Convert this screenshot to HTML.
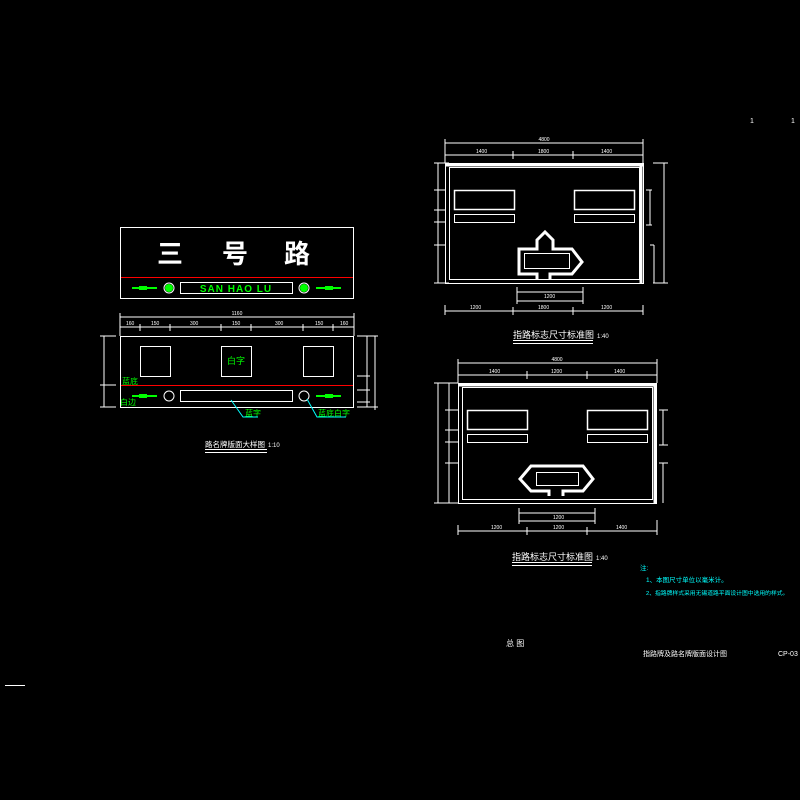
<!DOCTYPE html>
<html><head><meta charset="utf-8"><style>
html,body{margin:0;padding:0;background:#000;}
svg{display:block;}
text{font-family:"Liberation Sans","Noto Sans CJK SC",sans-serif;}
</style></head><body>
<svg width="800" height="800" viewBox="0 0 800 800" xmlns="http://www.w3.org/2000/svg">
<rect width="800" height="800" fill="#000"/>
<g fill="none" stroke="#fff" stroke-width="1">
<rect x="120.5" y="227.5" width="233" height="71"/>
<rect x="180.5" y="282.5" width="112" height="11"/>
<rect x="120.5" y="336.5" width="233" height="71"/>
<rect x="140.5" y="346.5" width="30" height="30"/>
<rect x="221.5" y="346.5" width="30" height="30"/>
<rect x="303.5" y="346.5" width="30" height="30"/>
<rect x="180.5" y="390.5" width="112" height="11"/>
<circle cx="169" cy="396" r="5"/>
<circle cx="304" cy="396" r="5"/>
<circle cx="169" cy="288" r="5"/>
<circle cx="304" cy="288" r="5"/>
<line x1="120" y1="317" x2="354" y2="317"/>
<line x1="120" y1="327" x2="354" y2="327"/>
<line x1="120" y1="313" x2="120" y2="336"/>
<line x1="354" y1="313" x2="354" y2="336"/>
<line x1="140" y1="324" x2="140" y2="331"/><line x1="170" y1="324" x2="170" y2="331"/>
<line x1="221" y1="324" x2="221" y2="331"/><line x1="251" y1="324" x2="251" y2="331"/>
<line x1="303" y1="324" x2="303" y2="331"/><line x1="333" y1="324" x2="333" y2="331"/>
<line x1="104" y1="336" x2="104" y2="407"/>
<line x1="100" y1="336" x2="116" y2="336"/><line x1="100" y1="385" x2="116" y2="385"/><line x1="100" y1="407" x2="116" y2="407"/>
<line x1="367" y1="336" x2="367" y2="407"/><line x1="375" y1="336" x2="375" y2="410"/>
<line x1="357" y1="336" x2="378" y2="336"/><line x1="357" y1="407" x2="378" y2="407"/>
<line x1="357" y1="376" x2="370" y2="376"/><line x1="357" y1="390" x2="370" y2="390"/><line x1="357" y1="402" x2="370" y2="402"/>
<line x1="205" y1="449.5" x2="267" y2="449.5"/><line x1="205" y1="452.5" x2="267" y2="452.5"/>

<rect x="445.5" y="163.5" width="198" height="120"/>
<rect x="449.5" y="167.5" width="190" height="112"/>
<line x1="446" y1="165" x2="643" y2="165" stroke-width="3"/>
<line x1="641" y1="164" x2="641" y2="283" stroke-width="3"/>
<rect x="454.5" y="190.5" width="60" height="19" stroke-width="1.5"/>
<rect x="454.5" y="214.5" width="60" height="8"/>
<rect x="574.5" y="190.5" width="60" height="19" stroke-width="1.5"/>
<rect x="574.5" y="214.5" width="60" height="8"/>
<path d="M537,279 V274 H519 V249 H537 V240 L545,232 L553,240 V249 H572 L582,262 L572,274 H550 V279" stroke-width="3"/>
<rect x="524.5" y="253.5" width="45" height="15"/>
<line x1="445" y1="143" x2="643" y2="143"/><line x1="445" y1="155" x2="643" y2="155"/>
<line x1="445" y1="139" x2="445" y2="163"/><line x1="643" y1="139" x2="643" y2="163"/>
<line x1="513" y1="151" x2="513" y2="159"/><line x1="573" y1="151" x2="573" y2="159"/>
<line x1="438" y1="163" x2="438" y2="283"/><line x1="434" y1="163" x2="449" y2="163"/><line x1="434" y1="283" x2="449" y2="283"/>
<line x1="434" y1="190" x2="445" y2="190"/><line x1="434" y1="210" x2="445" y2="210"/><line x1="434" y1="222" x2="445" y2="222"/><line x1="434" y1="245" x2="445" y2="245"/>
<line x1="664" y1="163" x2="664" y2="283"/><line x1="653" y1="163" x2="668" y2="163"/><line x1="653" y1="283" x2="668" y2="283"/>
<line x1="650" y1="245" x2="654" y2="245"/><line x1="654" y1="245" x2="654" y2="283"/>
<line x1="646" y1="190" x2="652" y2="190"/><line x1="650" y1="190" x2="650" y2="225"/><line x1="646" y1="225" x2="652" y2="225"/>
<line x1="445" y1="311" x2="643" y2="311"/><line x1="445" y1="305" x2="445" y2="315"/><line x1="643" y1="305" x2="643" y2="315"/>
<line x1="513" y1="307" x2="513" y2="315"/><line x1="573" y1="307" x2="573" y2="315"/>
<line x1="517" y1="292" x2="583" y2="292"/><line x1="517" y1="301" x2="583" y2="301"/>
<line x1="517" y1="287" x2="517" y2="304"/><line x1="583" y1="287" x2="583" y2="304"/>
<line x1="513" y1="340.5" x2="593" y2="340.5"/><line x1="513" y1="343.5" x2="593" y2="343.5"/>

<rect x="458.5" y="383.5" width="198" height="120"/>
<rect x="462.5" y="387.5" width="190" height="112"/>
<line x1="459" y1="385" x2="657" y2="385" stroke-width="3"/>
<line x1="655" y1="384" x2="655" y2="503" stroke-width="3"/>
<rect x="467.5" y="410.5" width="60" height="19" stroke-width="1.5"/>
<rect x="467.5" y="434.5" width="60" height="8"/>
<rect x="587.5" y="410.5" width="60" height="19" stroke-width="1.5"/>
<rect x="587.5" y="434.5" width="60" height="8"/>
<path d="M549,496 V491 H531 L520,479 L531,466 H583 L593,479 L583,491 H563 V496" stroke-width="3"/>
<rect x="536.5" y="472.5" width="42" height="13"/>
<line x1="458" y1="363" x2="657" y2="363"/><line x1="458" y1="375" x2="657" y2="375"/>
<line x1="458" y1="359" x2="458" y2="383"/><line x1="657" y1="359" x2="657" y2="383"/>
<line x1="527" y1="371" x2="527" y2="379"/><line x1="587" y1="371" x2="587" y2="379"/>
<line x1="438" y1="383" x2="438" y2="503"/><line x1="434" y1="383" x2="458" y2="383"/><line x1="434" y1="503" x2="458" y2="503"/>
<line x1="449" y1="383" x2="449" y2="503"/>
<line x1="445" y1="410" x2="458" y2="410"/><line x1="445" y1="430" x2="458" y2="430"/><line x1="445" y1="442" x2="458" y2="442"/><line x1="445" y1="463" x2="458" y2="463"/>
<line x1="663" y1="410" x2="663" y2="445"/><line x1="663" y1="463" x2="663" y2="503"/>
<line x1="659" y1="410" x2="668" y2="410"/><line x1="659" y1="445" x2="668" y2="445"/><line x1="659" y1="463" x2="668" y2="463"/>
<line x1="458" y1="531" x2="657" y2="531"/><line x1="458" y1="525" x2="458" y2="535"/><line x1="657" y1="520" x2="657" y2="535"/>
<line x1="527" y1="527" x2="527" y2="535"/><line x1="587" y1="527" x2="587" y2="535"/>
<line x1="519" y1="513" x2="595" y2="513"/><line x1="519" y1="521" x2="595" y2="521"/>
<line x1="519" y1="508" x2="519" y2="524"/><line x1="595" y1="508" x2="595" y2="524"/>
<line x1="512" y1="562.5" x2="592" y2="562.5"/><line x1="512" y1="565.5" x2="592" y2="565.5"/>
<line x1="5" y1="685.5" x2="25" y2="685.5"/>
</g>
<line x1="121" y1="277.5" x2="353" y2="277.5" stroke="#f00"/>
<line x1="121" y1="385.5" x2="353" y2="385.5" stroke="#f00"/>
<g fill="#0f0">
<rect x="132" y="287" width="25" height="2"/><rect x="139" y="286" width="8" height="4"/>
<rect x="316" y="287" width="25" height="2"/><rect x="325" y="286" width="8" height="4"/>
<rect x="132" y="395" width="25" height="2"/><rect x="139" y="394" width="8" height="4"/>
<rect x="316" y="395" width="25" height="2"/><rect x="325" y="394" width="8" height="4"/>
<circle cx="169" cy="288" r="4"/><circle cx="304" cy="288" r="4"/>
<text x="236" y="292" font-size="10" font-weight="bold" text-anchor="middle" letter-spacing="1">SAN HAO LU</text>
<text x="236" y="364" font-size="9" text-anchor="middle">白字</text>
<text x="122" y="384" font-size="8">蓝底</text>
<text x="120" y="405" font-size="8">白边</text>
<text x="245" y="416" font-size="8">蓝字</text>
<text x="318" y="416" font-size="8">蓝底白字</text>
</g>
<g stroke="#0ff" fill="none"><path d="M231,400 L243,417 H258"/><path d="M307,399 L317,417 H346"/></g>
<g fill="#fff">
<text x="170" y="263" font-size="26" font-weight="bold" text-anchor="middle">三</text>
<text x="235" y="263" font-size="26" font-weight="bold" text-anchor="middle">号</text>
<text x="297" y="263" font-size="26" font-weight="bold" text-anchor="middle">路</text>
<text x="205" y="447" font-size="7.5">路名牌版面大样图</text>
<text x="268" y="447" font-size="6">1:10</text>
<text x="513" y="338" font-size="9">指路标志尺寸标准图</text>
<text x="597" y="338" font-size="6">1:40</text>
<text x="512" y="560" font-size="9">指路标志尺寸标准图</text>
<text x="596" y="560" font-size="6">1:40</text>
<text x="506" y="646" font-size="8">总 图</text>
<text x="643" y="656" font-size="7">指路牌及路名牌版面设计图</text>
<text x="778" y="656" font-size="7">CP-03</text>
<text x="750" y="123" font-size="7">1</text><text x="791" y="123" font-size="7">1</text>
<g font-size="5">
<text x="237" y="315" text-anchor="middle">1160</text>
<text x="126" y="325">160</text><text x="151" y="325">150</text><text x="190" y="325">300</text><text x="232" y="325">150</text><text x="275" y="325">300</text><text x="315" y="325">150</text><text x="340" y="325">160</text>
<text x="544" y="141" text-anchor="middle">4800</text><text x="476" y="153">1400</text><text x="538" y="153">1800</text><text x="601" y="153">1400</text>
<text x="544" y="298">1200</text><text x="470" y="309">1200</text><text x="538" y="309">1800</text><text x="601" y="309">1200</text>
<text x="557" y="361" text-anchor="middle">4800</text><text x="489" y="373">1400</text><text x="551" y="373">1200</text><text x="614" y="373">1400</text>
<text x="553" y="519">1200</text><text x="491" y="529">1200</text><text x="553" y="529">1200</text><text x="616" y="529">1400</text>
</g>
</g>
<g fill="#0ff" font-size="6.5">
<text x="640" y="570">注:</text>
<text x="646" y="582">1、本图尺寸单位以毫米计。</text>
<text x="646" y="595" font-size="5.8">2、指路牌样式采用无锡道路平面设计图中选用的样式。</text>
</g>
</svg>
</body></html>
